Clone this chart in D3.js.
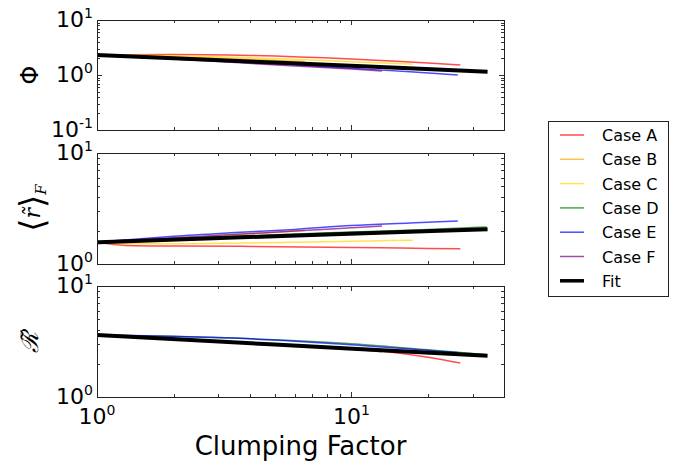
<!DOCTYPE html>
<html>
<head>
<meta charset="utf-8">
<script src="https://cdn.jsdelivr.net/npm/d3@7"></script>
<style>
  body { margin: 0; background: #fff; }
  svg { font-family: 'DejaVu Sans', sans-serif; }
</style>
</head>
<body>
<div id="chart"></div>
<script>
// Data
const caseNames = ['Case A', 'Case B', 'Case C', 'Case D', 'Case E', 'Case F']
const caseColors = ['#ff0000', '#ffa500', '#ffd700', '#008000', '#0000ff', '#800080']

const xA = [1, 1.3, 2, 4, 10, 13, 20, 26.8]
const phiA = [2.30, 2.34, 2.37, 2.27, 1.95, 1.84, 1.66, 1.52]
const rA = [1.57, 1.47, 1.45, 1.44, 1.41, 1.40, 1.38, 1.37]
const RA = [3.61, 3.50, 3.36, 3.08, 2.74, 2.60, 2.28, 2.02]

const xB = [1, 1.3, 2, 3, 5, 6.56]
const phiB = [2.30, 2.25, 2.15, 2.02, 1.85, 1.76]
const rB = [1.57, 1.62, 1.70, 1.80, 1.93, 2.00]
const RB = [3.61, 3.50, 3.30, 3.14, 2.94, 2.80]

const xC = [1, 1.3, 2, 3.5, 6, 10, 14, 17.4]
const phiC = [2.30, 2.30, 2.25, 2.10, 1.92, 1.75, 1.63, 1.57]
const rC = [1.57, 1.52, 1.52, 1.54, 1.57, 1.60, 1.63, 1.64]
const RC = [3.61, 3.50, 3.32, 3.08, 2.88, 2.72, 2.62, 2.55]

const xD = [1, 2, 5, 10, 20, 34]
const phiD = [2.30, 2.02, 1.72, 1.48, 1.30, 1.17]
const rD = [1.57, 1.69, 1.83, 1.94, 2.05, 2.16]
const RD = [3.61, 3.50, 3.28, 3.02, 2.66, 2.40]

const xE = [1, 1.3, 2, 3.5, 6, 10, 17, 26.2]
const phiE = [2.30, 2.15, 1.98, 1.72, 1.52, 1.32, 1.15, 1.00]
const rE = [1.57, 1.65, 1.78, 1.92, 2.05, 2.22, 2.34, 2.44]
const RE = [3.61, 3.58, 3.52, 3.40, 3.18, 2.95, 2.70, 2.52]

const xF = [1, 1.3, 2, 3.5, 6, 10, 13.2]
const phiF = [2.30, 2.15, 1.95, 1.68, 1.45, 1.28, 1.18]
const rF = [1.57, 1.63, 1.72, 1.85, 1.98, 2.12, 2.20]
const RF = [3.61, 3.50, 3.35, 3.12, 2.90, 2.70, 2.56]

const xFit = [1, 5, 34.3]
const phiFit = [2.31, 1.68, 1.15]
const rFit = [1.57, 1.78, 2.06]
const RFit = [3.61, 2.97, 2.35]

const caseX = [xA, xB, xC, xD, xE, xF]
const panelsData = [
  { ys: [phiA, phiB, phiC, phiD, phiE, phiF], fit: phiFit, domain: [0.1, 10] },
  { ys: [rA, rB, rC, rD, rE, rF], fit: rFit, domain: [1, 10] },
  { ys: [RA, RB, RC, RD, RE, RF], fit: RFit, domain: [1, 10] },
]

// Layout
const W = 686, H = 467
const left = 97, right = 504
const panelBox = [[20, 130], [153, 264], [286, 397]]

const svg = d3.select('#chart').append('svg')
  .attr('width', W).attr('height', H)

const x = d3.scaleLog().domain([1, 39.8]).range([left, right])

const xMinor = [2, 3, 4, 5, 6, 7, 8, 9, 20, 30]
const xMajor = [1, 10]

function supLabel(sel, exp) {
  sel.append('tspan').text('10')
  sel.append('tspan').attr('font-size', 14).attr('dy', -9).text(exp)
}

panelsData.forEach((p, pi) => {
  const [top, bottom] = panelBox[pi]
  const y = d3.scaleLog().domain(p.domain).range([bottom, top])
  const g = svg.append('g')

  const clipId = 'clip' + pi
  svg.append('clipPath').attr('id', clipId)
    .append('rect').attr('x', left).attr('y', top).attr('width', right - left).attr('height', bottom - top)

  const line = d3.line().x(d => x(d[0])).y(d => y(d[1])).curve(d3.curveMonotoneX)
  const lines = g.append('g').attr('clip-path', `url(#${clipId})`)

  p.ys.forEach((ys, ci) => {
    const pts = caseX[ci].map((xv, i) => [xv, ys[i]])
    lines.append('path')
      .attr('d', line(pts))
      .attr('fill', 'none')
      .attr('stroke', caseColors[ci])
      .attr('stroke-opacity', 0.7)
      .attr('stroke-width', 1.5)
  })
  lines.append('path')
    .attr('d', line(xFit.map((xv, i) => [xv, p.fit[i]])))
    .attr('fill', 'none')
    .attr('stroke', '#000')
    .attr('stroke-width', 4)

  // ticks (inside, all four sides)
  const ticks = g.append('g').attr('stroke', '#333').attr('stroke-width', 1)
  const xt = xMajor.map(v => [v, 5]).concat(xMinor.map(v => [v, 3]))
  xt.forEach(([v, len]) => {
    const px = Math.round(x(v)) + 0.5
    ticks.append('line').attr('x1', px).attr('x2', px).attr('y1', bottom).attr('y2', bottom - len)
    ticks.append('line').attr('x1', px).attr('x2', px).attr('y1', top).attr('y2', top + len)
  })
  const yMajor = p.domain[0] === 0.1 ? [0.1, 1, 10] : [1, 10]
  const yMinor = []
  for (let d = p.domain[0]; d < p.domain[1]; d *= 10) {
    for (let k = 2; k <= 9; k++) yMinor.push(d * k)
  }
  yMajor.map(v => [v, 5]).concat(yMinor.map(v => [v, 3])).forEach(([v, len]) => {
    const py = Math.round(y(v)) + 0.5
    ticks.append('line').attr('x1', left).attr('x2', left + len).attr('y1', py).attr('y2', py)
    ticks.append('line').attr('x1', right).attr('x2', right - len).attr('y1', py).attr('y2', py)
  })

  // frame
  g.append('rect')
    .attr('x', left + 0.5).attr('y', top + 0.5)
    .attr('width', right - left).attr('height', bottom - top)
    .attr('fill', 'none').attr('stroke', '#222').attr('stroke-width', 1)

  // y tick labels
  yMajor.forEach(v => {
    const exp = String(Math.round(Math.log10(v)))
    const t = g.append('text')
      .attr('x', 93).attr('y', y(v) + 7)
      .attr('text-anchor', 'end')
      .attr('font-size', 22)
      .attr('fill', '#000')
    supLabel(t, exp)
  })
})

// x tick labels (bottom panel only)
xMajor.forEach(v => {
  const t = svg.append('text')
    .attr('x', x(v)).attr('y', 424)
    .attr('text-anchor', 'middle')
    .attr('font-size', 22)
  supLabel(t, String(Math.round(Math.log10(v))))
})

svg.append('text')
  .attr('x', (left + right) / 2).attr('y', 455)
  .attr('text-anchor', 'middle')
  .attr('font-size', 26)
  .text('Clumping Factor')

// y axis labels
svg.append('text')
  .attr('transform', 'translate(38,75) rotate(-90)')
  .attr('text-anchor', 'middle')
  .attr('font-size', 24)
  .text('Φ')

const rl = svg.append('text')
  .attr('transform', 'translate(40,208) rotate(-90)')
  .attr('text-anchor', 'middle')
  .attr('font-size', 22)
rl.append('tspan').attr('font-size', 34).attr('dy', 4).text('⟨')
rl.append('tspan').attr('font-family', 'DejaVu Serif').attr('font-style', 'italic').attr('dy', -4).text('r̃')
rl.append('tspan').attr('font-size', 34).attr('dy', 4).text('⟩')
rl.append('tspan').attr('font-family', 'DejaVu Serif').attr('font-style', 'italic')
  .attr('font-size', 15).attr('dy', 2).text('F')

svg.append('text')
  .attr('transform', 'translate(38,342) rotate(-90)')
  .attr('text-anchor', 'middle')
  .attr('font-size', 24)
  .attr('font-family', 'DejaVu Serif')
  .attr('font-style', 'italic')
  .text('ℛ̃')

// Legend
const leg = svg.append('g')
leg.append('rect')
  .attr('x', 548.5).attr('y', 121.5).attr('width', 120).attr('height', 175)
  .attr('fill', '#fff').attr('stroke', '#222').attr('stroke-width', 1)
const legNames = caseNames.concat(['Fit'])
legNames.forEach((name, i) => {
  const cy = 135 + i * 24.3
  leg.append('line')
    .attr('x1', 560).attr('x2', 584).attr('y1', cy).attr('y2', cy)
    .attr('stroke', i < caseNames.length ? caseColors[i] : '#000')
    .attr('stroke-opacity', i < caseNames.length ? 0.7 : 1)
    .attr('stroke-width', i < caseNames.length ? 1.5 : 3.5)
  leg.append('text')
    .attr('x', 602).attr('y', cy + 6)
    .attr('font-size', 16)
    .text(name)
})
</script>
</body>
</html>
